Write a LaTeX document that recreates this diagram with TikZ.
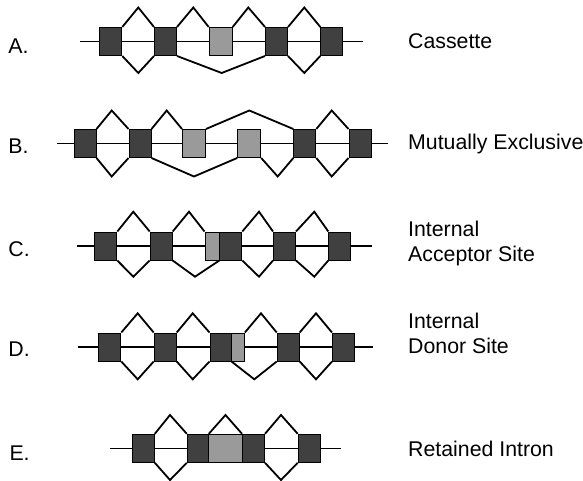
\documentclass[tikz,border=0pt]{standalone}
\usepackage{fontspec}
\setmainfont{Liberation Sans}
\definecolor{exdark}{HTML}{404040}
\definecolor{exgrey}{HTML}{9A9A9A}
\begin{document}
\begin{tikzpicture}[x=1pt,y=-1pt,
  exon/.style={draw=black, line width=1pt, minimum width=22pt, minimum height=28pt, inner sep=0pt, fill=exdark},
  altexon/.style={exon, fill=exgrey},
  backbone/.style={line width=1.6pt, black},
  splice/.style={line width=1.8pt, black, line join=miter},
  lbl/.style={font=\fontsize{21.3}{25}\selectfont, anchor=base west, inner sep=0pt, align=left}]
\useasboundingbox (0,0) rectangle (583,481);

% ---------- A. Cassette ----------
\coordinate (aL) at (80,41.5); \coordinate (aR) at (363,41.5);
\draw[backbone] (aL) -- (aR);
\node[exon] (a1) at (110.8,41.5) {};
\node[exon] (a2) at (165.5,41.5) {};
\node[altexon, minimum width=23pt] (a3) at (220.7,41.5) {};
\node[exon] (a4) at (276.5,41.5) {};
\node[exon] (a5) at (331.8,41.5) {};
\draw[splice] (a1.north east) -- (138.3,7.5) -- (a2.north west);
\draw[splice] (a2.north east) -- (193.3,7.5) -- (a3.north west);
\draw[splice] (a3.north east) -- (248.3,7.5) -- (a4.north west);
\draw[splice] (a4.north east) -- (304.3,7.5) -- (a5.north west);
\draw[splice] (a1.south east) -- (138.3,73) -- (a2.south west);
\draw[splice] (a2.south east) -- (221.7,73) -- (a4.south west);
\draw[splice] (a4.south east) -- (304.3,73) -- (a5.south west);

% ---------- B. Mutually Exclusive ----------
\coordinate (bL) at (56.7,143.5); \coordinate (bR) at (388.3,143.5);
\draw[backbone] (bL) -- (bR);
\node[exon] (b1) at (85,143.5) {};
\node[exon] (b2) at (140,143.5) {};
\node[altexon, minimum width=23pt] (b3) at (194,143.5) {};
\node[altexon, minimum width=23pt] (b4) at (249.2,143.5) {};
\node[exon] (b5) at (304.8,143.5) {};
\node[exon] (b6) at (360,143.5) {};
\draw[splice] (b1.north east) -- (111.7,110.5) -- (b2.north west);
\draw[splice] (b2.north east) -- (166.7,110.5) -- (b3.north west);
\draw[splice] (b3.north east) -- (249.3,110.5) -- (b5.north west);
\draw[splice] (b5.north east) -- (331.7,110.5) -- (b6.north west);
\draw[splice] (b1.south east) -- (111.7,176.5) -- (b2.south west);
\draw[splice] (b2.south east) -- (194,176.5) -- (b4.south west);
\draw[splice] (b4.south east) -- (277.7,176.5) -- (b5.south west);
\draw[splice] (b5.south east) -- (331.7,176.5) -- (b6.south west);

% ---------- C. Internal Acceptor Site ----------
\coordinate (cL) at (76.7,246); \coordinate (cR) at (371.7,246);
\draw[backbone] (cL) -- (cR);
\node[exon] (c1) at (105.8,246) {};
\node[exon] (c2) at (161.2,246) {};
\node[altexon, minimum width=15pt] (cg) at (212.5,246) {};
\node[exon] (c3) at (230.8,246) {};
\node[exon] (c4) at (284.5,246) {};
\node[exon] (c5) at (339.8,246) {};
\draw[splice] (c1.north east) -- (133.3,211.7) -- (c2.north west);
\draw[splice] (c2.north east) -- (189,211.7) -- (cg.north west);
\draw[splice] (c3.north east) -- (259,211.7) -- (c4.north west);
\draw[splice] (c4.north east) -- (314.3,211.7) -- (c5.north west);
\draw[splice] (c1.south east) -- (133.3,276.7) -- (c2.south west);
\draw[splice] (c2.south east) -- (195,276.7) -- (c3.south west);
\draw[splice] (c3.south east) -- (259,276.7) -- (c4.south west);
\draw[splice] (c4.south east) -- (314.3,276.7) -- (c5.south west);

% ---------- D. Internal Donor Site ----------
\coordinate (dL) at (78.3,347); \coordinate (dR) at (373.3,347);
\draw[backbone] (dL) -- (dR);
\node[exon] (d1) at (109.8,347) {};
\node[exon] (d2) at (165.2,347) {};
\node[exon, minimum width=21pt] (d3) at (220.5,347) {};
\node[altexon, minimum width=13.3pt] (dg) at (237.7,347) {};
\node[exon] (d4) at (288.2,347) {};
\node[exon] (d5) at (343.5,347) {};
\draw[splice] (d1.north east) -- (137.7,313.3) -- (d2.north west);
\draw[splice] (d2.north east) -- (192.7,313.3) -- (d3.north west);
\draw[splice] (dg.north east) -- (261,313.3) -- (d4.north west);
\draw[splice] (d4.north east) -- (316,313.3) -- (d5.north west);
\draw[splice] (d1.south east) -- (137.7,379.3) -- (d2.south west);
\draw[splice] (d2.south east) -- (192.7,379.3) -- (d3.south west);
\draw[splice] (d3.south east) -- (254.3,379.3) -- (d4.south west);
\draw[splice] (d4.south east) -- (316,379.3) -- (d5.south west);

% ---------- E. Retained Intron ----------
\coordinate (eL) at (110,448.3); \coordinate (eR) at (340.7,448.3);
\draw[backbone] (eL) -- (eR);
\node[exon] (e1) at (143.3,448.3) {};
\node[exon, minimum width=21pt] (e2) at (197.8,448.3) {};
\node[altexon, minimum width=34.4pt] (eg) at (225.5,448.3) {};
\node[exon] (e4) at (253.5,448.3) {};
\node[exon] (e5) at (309.2,448.3) {};
\draw[splice] (e1.north east) -- (170,415) -- (e2.north west);
\draw[splice] (e2.north east) -- (225.5,415) -- (e4.north west);
\draw[splice] (e4.north east) -- (281,415) -- (e5.north west);
\draw[splice] (e1.south east) -- (170,480) -- (e2.south west);
\draw[splice] (e4.south east) -- (281,480) -- (e5.south west);

% ---------- labels ----------
\node[lbl] (lA) at (8.3,53.3) {A.};
\node[lbl] (lB) at (8.3,153.3) {B.};
\node[lbl] (lC) at (8.3,256) {C.};
\node[lbl] (lD) at (8.3,356) {D.};
\node[lbl] (lE) at (9.3,460.7) {E.};
\node[lbl] (tA) at (408,48.3) {Cassette};
\node[lbl] (tB) at (408,150) {Mutually Exclusive};
\node[lbl] (tC) at (408,261.7) {Internal\\Acceptor Site};
\node[lbl] (tD) at (408,353.3) {Internal\\Donor Site};
\node[lbl] (tE) at (408,456.7) {Retained Intron};
\end{tikzpicture}
\end{document}
